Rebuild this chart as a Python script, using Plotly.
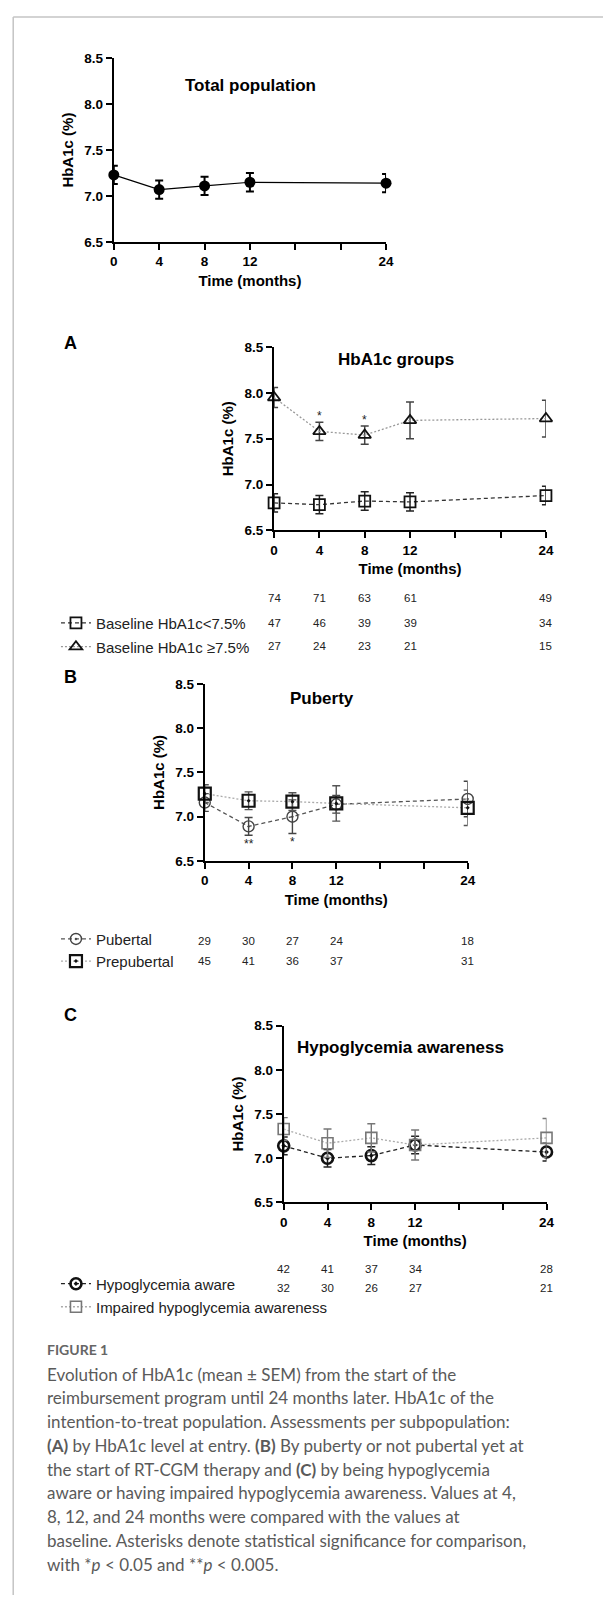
import plotly.graph_objects as go

W, H = 611, 1603
F = "Liberation Sans, Arial, sans-serif"
CAP_F = "Lato, Open Sans, sans-serif"

# ---------------- data ----------------
months = [0, 4, 8, 12, 24]
x_tick_vals = [0, 4, 8, 12, 16, 20, 24]
x_tick_text = ["0", "4", "8", "12", "", "", "24"]
y_tick_vals = [6.5, 7.0, 7.5, 8.0, 8.5]

total_mean = [7.23, 7.07, 7.11, 7.15, 7.14]
total_sem = [0.10, 0.10, 0.10, 0.10, 0.10]

low_mean = [6.80, 6.78, 6.82, 6.81, 6.88]
low_sem = [0.10, 0.10, 0.10, 0.10, 0.10]
high_mean = [7.95, 7.58, 7.54, 7.70, 7.72]
high_sem = [0.11, 0.10, 0.10, 0.20, 0.20]
high_sig = ["", "*", "*", "", ""]

pub_mean = [7.16, 6.89, 7.00, 7.14, 7.20]
pub_sem = [0.10, 0.10, 0.19, 0.10, 0.20]
pub_sig = ["", "**", "*", "", ""]
prepub_mean = [7.26, 7.18, 7.17, 7.15, 7.10]
prepub_sem = [0.10, 0.10, 0.10, 0.20, 0.20]

aware_mean = [7.14, 7.00, 7.03, 7.15, 7.07]
aware_sem = [0.10, 0.10, 0.10, 0.10, 0.10]
impaired_mean = [7.33, 7.17, 7.23, 7.15, 7.23]
impaired_sem = [0.13, 0.16, 0.16, 0.17, 0.22]

n_A_total = [74, 71, 63, 61, 49]
n_A_low = [47, 46, 39, 39, 34]
n_A_high = [27, 24, 23, 21, 15]
n_B_pub = [29, 30, 27, 24, 18]
n_B_prepub = [45, 41, 36, 37, 31]
n_C_aware = [42, 41, 37, 34, 28]
n_C_impaired = [32, 30, 26, 27, 21]

panel_titles = ["Total population", "HbA1c groups", "Puberty", "Hypoglycemia awareness"]
legend_names = ["Baseline HbA1c&lt;7.5%", "Baseline HbA1c \u22657.5%",
                "Pubertal", "Prepubertal",
                "Hypoglycemia aware", "Impaired hypoglycemia awareness"]

caption_head = "FIGURE 1"
caption_lines = [
    "Evolution of HbA1c (mean \u00b1 SEM) from the start of the",
    "reimbursement program until 24 months later. HbA1c of the",
    "intention-to-treat population. Assessments per subpopulation:",
    "<b>(A)</b> by HbA1c level at entry. <b>(B)</b> By puberty or not pubertal yet at",
    "the start of RT-CGM therapy and <b>(C)</b> by being hypoglycemia",
    "aware or having impaired hypoglycemia awareness. Values at 4,",
    "8, 12, and 24 months were compared with the values at",
    "baseline. Asterisks denote statistical significance for comparison,",
    "with *<i>p</i> &lt; 0.05 and **<i>p</i> &lt; 0.005.",
]

# ---------------- layout helpers ----------------
def px(v):
    return v / W


def py(v):
    return 1 - v / H


fig = go.Figure()

panels = {
    # name: (x0, x1, ytop, ybottom)
    "1": (112, 389.7, 51.7, 237.2),
    "2": (275.5, 552.8, 343.3, 528.3),
    "3": (204.8, 473.0, 683.3, 862.0),
    "4": (285.3, 553.4, 1028.3, 1206.7),
}

layout_axes = {}
for k, (x0, x1, yt, yb) in panels.items():
    xa = "xaxis" if k == "1" else f"xaxis{k}"
    ya = "yaxis" if k == "1" else f"yaxis{k}"
    xr = "x" if k == "1" else f"x{k}"
    yr = "y" if k == "1" else f"y{k}"
    layout_axes[xa] = dict(
        domain=[px(x0), px(x1)], anchor=yr, range=[0, 24],
        tickvals=x_tick_vals, ticktext=x_tick_text,
        ticks="outside", ticklen=6, tickwidth=2, tickcolor="black",
        showline=True, linewidth=2, linecolor="black",
        showgrid=False, zeroline=False, fixedrange=True,
        tickfont=dict(family=F, size=13.5, color="black", weight="bold"),
        title=dict(text="Time (months)", standoff=7,
                   font=dict(family=F, size=15, color="black", weight="bold")),
    )
    layout_axes[ya] = dict(
        domain=[py(yb), py(yt)], anchor=xr, range=[6.5, 8.5],
        tickvals=y_tick_vals, tickformat=".1f",
        ticks="outside", ticklen=6, tickwidth=2, tickcolor="black",
        showline=True, linewidth=2, linecolor="black",
        showgrid=False, zeroline=False, fixedrange=True,
        tickfont=dict(family=F, size=13.5, color="black", weight="bold"),
        title=dict(text="HbA1c (%)", standoff=7,
                   font=dict(family=F, size=15, color="black", weight="bold")),
    )


def err(arr, color, thick=1.6):
    return dict(type="data", array=arr, visible=True, color=color, thickness=thick, width=4)


# Total population
fig.add_trace(go.Scatter(
    x=months, y=total_mean, mode="lines+markers", showlegend=False,
    error_y=err(total_sem, "black", 2),
    line=dict(color="black", width=1.2),
    marker=dict(symbol="circle", size=11, color="black"),
    xaxis="x", yaxis="y", cliponaxis=False))

# A: HbA1c groups
fig.add_trace(go.Scatter(
    x=months, y=low_mean, mode="lines+markers", name=legend_names[0], legend="legend",
    error_y=err(low_sem, "#222", 1.5),
    line=dict(color="#333", width=1.3, dash="4px,3px"),
    marker=dict(symbol="square-open", size=11, color="#111", line=dict(width=1.8, color="#111")),
    xaxis="x2", yaxis="y2", cliponaxis=False))
fig.add_trace(go.Scatter(
    x=months, y=high_mean, mode="lines+markers", name=legend_names[1], legend="legend2",
    error_y=err(high_sem, "#444", 1.5),
    line=dict(color="#999", width=1.3, dash="2px,2px"),
    marker=dict(symbol="triangle-up-open", size=11, color="#111", line=dict(width=1.8, color="#111")),
    xaxis="x2", yaxis="y2", cliponaxis=False))

# B: Puberty
fig.add_trace(go.Scatter(
    x=months, y=pub_mean, mode="lines+markers", name=legend_names[2], legend="legend3",
    error_y=err(pub_sem, "#444", 1.4),
    line=dict(color="#555", width=1.3, dash="4px,3px"),
    marker=dict(symbol="circle-open-dot", size=11, color="#444", line=dict(width=1.4, color="#444")),
    xaxis="x3", yaxis="y3", cliponaxis=False))
fig.add_trace(go.Scatter(
    x=months, y=prepub_mean, mode="lines+markers", name=legend_names[3], legend="legend4",
    error_y=err(prepub_sem, "#555", 1.4),
    line=dict(color="#aaa", width=1.3, dash="2px,2px"),
    marker=dict(symbol="square-open-dot", size=12, color="#111", line=dict(width=2.2, color="#111")),
    xaxis="x3", yaxis="y3", cliponaxis=False))

# C: Hypoglycemia awareness
fig.add_trace(go.Scatter(
    x=months, y=aware_mean, mode="lines+markers", name=legend_names[4], legend="legend5",
    error_y=err(aware_sem, "#222", 1.5),
    line=dict(color="#222", width=1.3, dash="4px,3px"),
    marker=dict(symbol="circle-open-dot", size=11, color="#111", line=dict(width=2.6, color="#111")),
    xaxis="x4", yaxis="y4", cliponaxis=False))
fig.add_trace(go.Scatter(
    x=months, y=impaired_mean, mode="lines+markers", name=legend_names[5], legend="legend6",
    error_y=err(impaired_sem, "#777", 1.4),
    line=dict(color="#aaa", width=1.3, dash="2px,2px"),
    marker=dict(symbol="square-open", size=11, color="#777", line=dict(width=1.6, color="#777")),
    xaxis="x4", yaxis="y4", cliponaxis=False))

# ---------------- annotations ----------------
ann = []
# panel titles
title_pos = [(251, 79), (399.5, 356), (324.6, 697.7), (404.5, 1050.7)]
for t, (tx, ty) in zip(panel_titles, title_pos):
    ann.append(dict(x=px(tx), y=py(ty), xref="paper", yref="paper", text=t, showarrow=False,
                    xanchor="center", yanchor="middle",
                    font=dict(family=F, size=17, color="black", weight="bold")))
# panel letters
for t, ty in zip(["A", "B", "C"], [339, 676.7, 1017.3]):
    ann.append(dict(x=px(68), y=py(ty), xref="paper", yref="paper", text=t, showarrow=False,
                    xanchor="center", yanchor="middle",
                    font=dict(family=F, size=18, color="black", weight="bold")))

# significance marks
for m, v, s, sg in zip(months, high_mean, high_sem, high_sig):
    if sg:
        ann.append(dict(x=m, y=v + s, xref="x2", yref="y2", text=sg, showarrow=False,
                        xanchor="center", yanchor="bottom", yshift=-3,
                        font=dict(family=F, size=12, color="#222")))
for m, v, s, sg in zip(months, pub_mean, pub_sem, pub_sig):
    if sg:
        ann.append(dict(x=m, y=v - s, xref="x3", yref="y3", text=sg, showarrow=False,
                        xanchor="center", yanchor="top", yshift=0,
                        font=dict(family=F, size=12, color="#222")))

# number-at-risk rows
rows = [
    (n_A_total, "x2", 596.5), (n_A_low, "x2", 622.3), (n_A_high, "x2", 645.5),
    (n_B_pub, "x3", 943.3), (n_B_prepub, "x3", 963.3),
    (n_C_aware, "x4", 1274), (n_C_impaired, "x4", 1293.5),
]
for vals, xr, ry in rows:
    for m, n in zip(months, vals):
        ann.append(dict(x=m, y=py(ry), xref=xr, yref="paper", text=str(n), showarrow=False,
                        xanchor="center", yanchor="middle",
                        font=dict(family=F, size=11.5, color="#222")))

# caption
ann.append(dict(x=px(42), y=py(1355), xref="paper", yref="paper", text=caption_head,
                showarrow=False, xanchor="left", yanchor="middle",
                font=dict(family=CAP_F, size=14, color="#666", weight="bold")))
for i, line in enumerate(caption_lines):
    ann.append(dict(x=px(42), y=py(1380 + 24 * i), xref="paper", yref="paper", text=line,
                    showarrow=False, xanchor="left", yanchor="middle",
                    font=dict(family=CAP_F, size=17, color="#5a5a5a")))

# ---------------- legends ----------------
legend_rows = [622.0, 646.0, 941.0, 963.3, 1289.0, 1312.3]
legends = {}
for i, ly in enumerate(legend_rows):
    key = "legend" if i == 0 else f"legend{i + 1}"
    legends[key] = dict(x=px(53), xanchor="left", y=py(ly), yanchor="middle",
                        bgcolor="rgba(0,0,0,0)", borderwidth=0, itemwidth=30,
                        font=dict(family=F, size=15, color="#222"))

# ---------------- frame ----------------
shapes = [
    dict(type="line", xref="paper", yref="paper", x0=px(9.4), x1=1, y0=py(10), y1=py(10),
         line=dict(color="#c4c4c4", width=1.5)),
    dict(type="line", xref="paper", yref="paper", x0=px(9.4), x1=px(9.4), y0=py(10), y1=0,
         line=dict(color="#c4c4c4", width=1.5)),
]

fig.update_layout(
    width=W, height=H, margin=dict(l=0, r=0, t=0, b=0),
    paper_bgcolor="white", plot_bgcolor="white",
    annotations=ann, shapes=shapes, showlegend=True,
    **layout_axes, **legends,
)

fig.write_html(
    "out.html",
    config={"displayModeBar": False, "staticPlot": True},
    post_script="document.body.style.margin='0';document.body.style.overflow='hidden';",
)
